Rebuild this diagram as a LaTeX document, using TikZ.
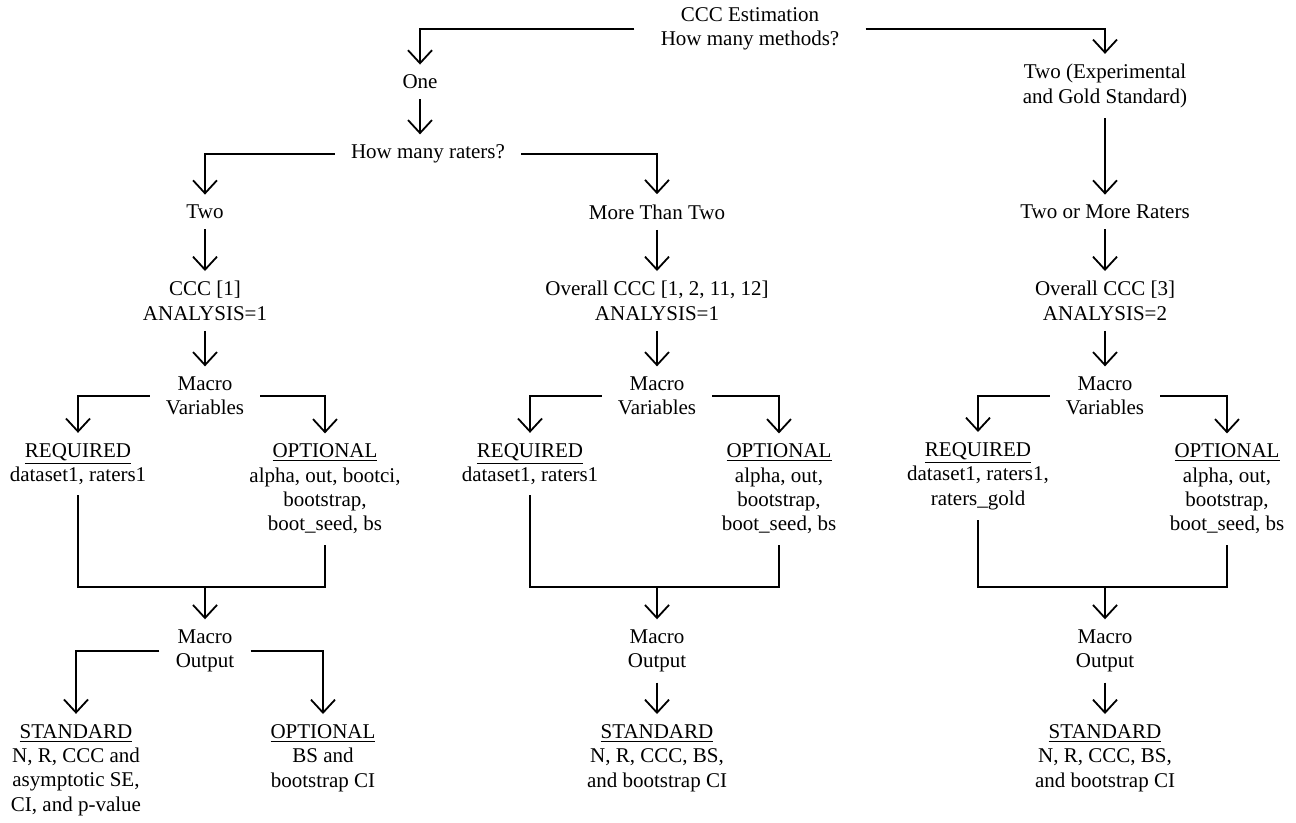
\documentclass[tikz,border=0pt]{standalone}
\usepackage{fontspec}
\setmainfont{Liberation Serif}
\usetikzlibrary{arrows.meta}

\tikzset{
  lbl/.style={align=center, inner xsep=3pt, inner ysep=0pt,
              font=\fontsize{10.5}{12.2}\selectfont},
  link/.style={line width=0.9pt, shorten <=5pt, shorten >=5pt},
  arr/.style={link, -{Straight Barb[length=6.5pt,width=12pt]}},
}

\begin{document}
\begin{tikzpicture}[x=0.5pt, y=-0.5pt]
  \useasboundingbox (0,0) rectangle (1296,823);

  % question levels
  \node[lbl] (ccc) at (750,29) {CCC Estimation\\How many methods?};
  \node[lbl] (one) at (420,82) {One};
  \node[lbl] (gold) at (1105,86) {Two (Experimental\\and Gold Standard)};
  \node[lbl] (raters) at (428,154) {How many raters?};
  \node[lbl] (two) at (205,212) {Two};
  \node[lbl] (more) at (657,212) {More Than Two};
  \node[lbl] (tomr) at (1105,212) {Two or More Raters};

  % analyses
  \node[lbl] (ccc1) at (205,301) {CCC [1]\\ANALYSIS=1};
  \node[lbl] (ccc2) at (657,301) {Overall CCC [1, 2, 11, 12]\\ANALYSIS=1};
  \node[lbl] (ccc3) at (1105,301) {Overall CCC [3]\\ANALYSIS=2};

  \node[lbl] (var1) at (205,396) {Macro\\Variables};
  \node[lbl] (var2) at (657,396) {Macro\\Variables};
  \node[lbl] (var3) at (1105,396) {Macro\\Variables};

  % macro variables
  \node[lbl] (req1) at (78,464) {\underline{REQUIRED}\\dataset1, raters1};
  \node[lbl] (opt1) at (325,489) {\underline{OPTIONAL}\\alpha, out, bootci,\\bootstrap,\\boot\_seed, bs};
  \node[lbl] (req2) at (530,464) {\underline{REQUIRED}\\dataset1, raters1};
  \node[lbl] (opt2) at (779,489) {\underline{OPTIONAL}\\alpha, out,\\bootstrap,\\boot\_seed, bs};
  \node[lbl] (req3) at (978,476) {\underline{REQUIRED}\\dataset1, raters1,\\raters\_gold};
  \node[lbl] (opt3) at (1227,489) {\underline{OPTIONAL}\\alpha, out,\\bootstrap,\\boot\_seed, bs};

  \coordinate (j1) at (205,587);
  \coordinate (j2) at (657,587);
  \coordinate (j3) at (1105,587);

  % macro output
  \node[lbl] (out1) at (205,651) {Macro\\Output};
  \node[lbl] (out2) at (657,651) {Macro\\Output};
  \node[lbl] (out3) at (1105,651) {Macro\\Output};

  \node[lbl] (std1) at (76,770) {\underline{STANDARD}\\N, R, CCC and\\asymptotic SE,\\CI, and p-value};
  \node[lbl] (bs1) at (323,758) {\underline{OPTIONAL}\\BS and\\bootstrap CI};
  \node[lbl] (std2) at (657,758) {\underline{STANDARD}\\N, R, CCC, BS,\\and bootstrap CI};
  \node[lbl] (std3) at (1105,758) {\underline{STANDARD}\\N, R, CCC, BS,\\and bootstrap CI};

  % connectors
  \draw[arr, shorten <=10pt] (ccc.west) -| (one.north);
  \draw[arr, shorten <=10pt] (ccc.east) -| (gold.north);
  \draw[arr] (one) -- (one |- raters.north);
  \draw[arr] (gold) -- (tomr);
  \draw[arr] (raters.west) -| (two.north);
  \draw[arr] (raters.east) -| (more.north);

  \draw[arr] (two) -- (ccc1);
  \draw[arr] (more) -- (ccc2);
  \draw[arr] (tomr) -- (ccc3);
  \draw[arr] (ccc1) -- (var1);
  \draw[arr] (ccc2) -- (var2);
  \draw[arr] (ccc3) -- (var3);

  \draw[arr] (var1.west) -| (req1.north);
  \draw[arr] (var1.east) -| (opt1.north);
  \draw[arr] (var2.west) -| (req2.north);
  \draw[arr] (var2.east) -| (opt2.north);
  \draw[arr] (var3.west) -| (req3.north);
  \draw[arr] (var3.east) -| (opt3.north);

  \draw[link] (req1.south) |- (j1) -| (opt1.south);
  \draw[link] (req2.south) |- (j2) -| (opt2.south);
  \draw[link] (req3.south) |- (j3) -| (opt3.south);
  \draw[arr, shorten <=0pt] (j1) -- (out1);
  \draw[arr, shorten <=0pt] (j2) -- (out2);
  \draw[arr, shorten <=0pt] (j3) -- (out3);

  \draw[arr] (out1.west) -| (std1.north);
  \draw[arr] (out1.east) -| (bs1.north);
  \draw[arr] (out2) -- (std2);
  \draw[arr] (out3) -- (std3);
\end{tikzpicture}
\end{document}
